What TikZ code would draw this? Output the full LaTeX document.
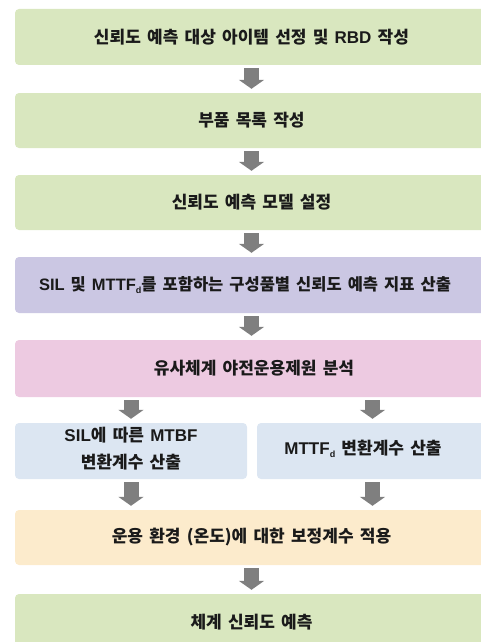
\documentclass[tikz,border=0pt]{standalone}
\usepackage{fontspec}
\setmainfont{Noto Sans CJK KR}[WordSpace=1.6]
\newfontfamily\latf{Liberation Sans}
\usetikzlibrary{arrows.meta}
\definecolor{cgreen}{HTML}{D9E7BF}
\definecolor{cpurple}{HTML}{CBC7E3}
\definecolor{cpink}{HTML}{EDCAE1}
\definecolor{cblue}{HTML}{DCE6F2}
\definecolor{ccream}{HTML}{FCEBCC}
\definecolor{agray}{HTML}{7F7F7F}
\definecolor{tcol}{HTML}{1A1A1A}
\newcommand\lat[1]{{\latf\bfseries #1}}
\newcommand\subd{\raisebox{-3pt}{\latf\bfseries\fontsize{9}{9}\selectfont d}}
\begin{document}
\begin{tikzpicture}[x=1pt,y=-1pt,
  box/.style={rectangle, rounded corners=4pt, inner sep=0pt, text=tcol,
    font=\fontsize{17}{22}\selectfont\bfseries, minimum width=473pt},
  txt/.style={inner sep=0pt, text=tcol, align=center,
    font=\fontsize{17}{27}\selectfont\bfseries},
  blk/.style={line width=15pt, agray, -{Triangle[width=25pt,length=9pt]},
    shorten <=3pt, shorten >=4pt}]
\useasboundingbox (0,0) rectangle (481,642);
\node[box, fill=cgreen, minimum height=56pt] (b1) at (251.5,37) {신뢰도 예측 대상 아이템 선정 및 \lat{RBD} 작성};
\node[box, fill=cgreen, minimum height=55pt] (b2) at (251.5,120.5) {부품 목록 작성};
\node[box, fill=cgreen, minimum height=55pt] (b3) at (251.5,202.5) {신뢰도 예측 모델 설정};
\node[box, fill=cpurple, minimum height=56pt] (b4) at (251.5,285) {};
\node[txt, font=\fontsize{16.5}{27}\selectfont\bfseries] (t4) at (245,285) {\lat{SIL} 및 \lat{MTTF}\subd 를 포함하는 구성품별 신뢰도 예측 지표 산출};
\node[box, fill=cpink, minimum height=57pt] (b5) at (251.5,368.5) {};
\node[txt] (t5) at (254,368.5) {유사체계 야전운용제원 분석};
\node[box, fill=cblue, minimum width=232pt, minimum height=56pt] (b6a) at (131,451) {};
\node[txt] (t6a) at (131,449) {\lat{SIL}에 따른 \lat{MTBF}\\변환계수 산출};
\node[box, fill=cblue, minimum width=231pt, minimum height=56pt] (b6b) at (372.5,451) {};
\node[txt] (t6b) at (363,449) {\lat{MTTF}\subd\ 변환계수 산출};
\node[box, fill=ccream, minimum height=55pt] (b7) at (251.5,537.5) {운용 환경 (온도)에 대한 보정계수 적용};
\node[box, fill=cgreen, minimum height=56pt] (b8) at (251.5,622) {체계 신뢰도 예측};
\draw[blk] (b1) -- (b2);
\draw[blk] (b2) -- (b3);
\draw[blk] (b3) -- (b4);
\draw[blk] (b4) -- (b5);
\draw[blk] (b6a.north |- b5.south) -- (b6a.north);
\draw[blk] (b6b.north |- b5.south) -- (b6b.north);
\draw[blk] (b6a.south) -- (b6a.south |- b7.north);
\draw[blk] (b6b.south) -- (b6b.south |- b7.north);
\draw[blk] (b7) -- (b8);
\end{tikzpicture}
\end{document}
